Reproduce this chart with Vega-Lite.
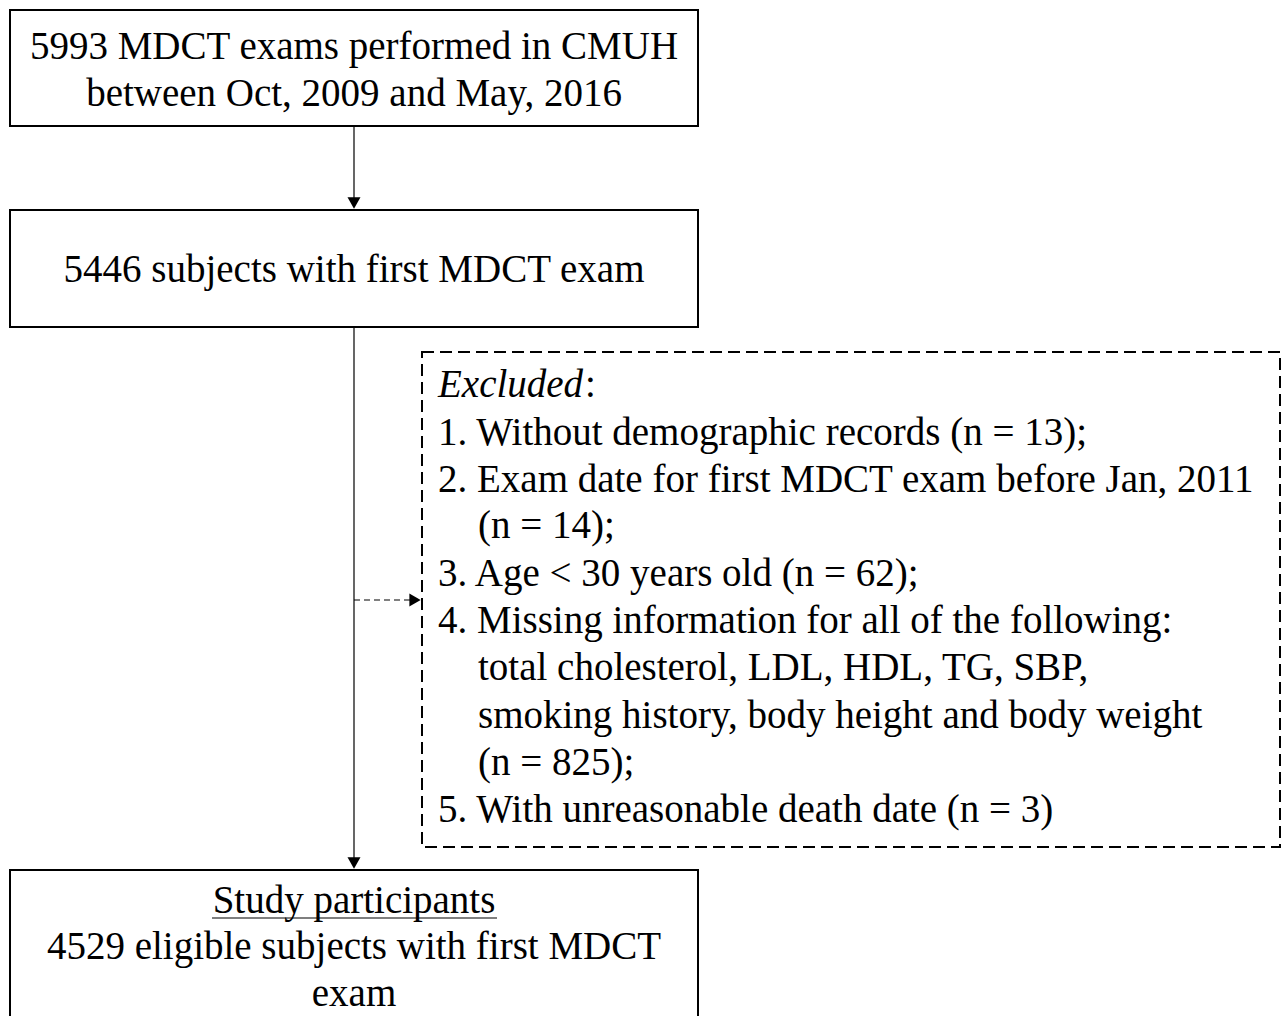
{
  "$schema": "https://vega.github.io/schema/vega-lite/v6.json",
  "width": 1286,
  "height": 1016,
  "autosize": {"type": "fit", "contains": "padding"},
  "padding": 0,
  "background": "white",
  "config": {"view": {"stroke": null}},
  "datasets": {
    "boxes": [
      {"id": "b1", "x": 10, "x2": 698, "y": 10, "y2": 126},
      {"id": "b2", "x": 10, "x2": 698, "y": 210, "y2": 327},
      {"id": "b3", "x": 10, "x2": 698, "y": 870, "y2": 1030}
    ],
    "dashbox": [{"x": 422, "x2": 1280, "y": 352, "y2": 847}],
    "vlines": [
      {"x": 354, "y": 126, "y2": 202},
      {"x": 354, "y": 327, "y2": 862}
    ],
    "hdash": [{"x": 354, "x2": 410, "y": 600}],
    "underline": [{"x": 212, "x2": 497, "y": 918}],
    "arrows": [
      {"x": 354, "y": 203, "dir": "down"},
      {"x": 354, "y": 863, "dir": "down"},
      {"x": 415, "y": 600, "dir": "right"}
    ],
    "ctext": [
      {"x": 354, "y": 47, "text": "5993 MDCT exams performed in CMUH"},
      {"x": 354, "y": 94, "text": "between Oct, 2009 and May, 2016"},
      {"x": 354, "y": 270, "text": "5446 subjects with first MDCT exam"},
      {"x": 354, "y": 901, "text": "Study participants"},
      {"x": 354, "y": 947, "text": "4529 eligible subjects with first MDCT"},
      {"x": 354, "y": 994, "text": "exam"}
    ],
    "ltext": [
      {"x": 585, "y": 385, "text": ":"},
      {"x": 438, "y": 433, "text": "1. Without demographic records (n = 13);"},
      {"x": 438, "y": 480, "text": "2. Exam date for first MDCT exam before Jan, 2011"},
      {"x": 478, "y": 526, "text": "(n = 14);"},
      {"x": 438, "y": 574, "text": "3. Age < 30 years old (n = 62);"},
      {"x": 438, "y": 621, "text": "4. Missing information for all of the following:"},
      {"x": 478, "y": 668, "text": "total cholesterol, LDL, HDL, TG, SBP,"},
      {"x": 478, "y": 716, "text": "smoking history, body height and body weight"},
      {"x": 478, "y": 763, "text": "(n = 825);"},
      {"x": 438, "y": 810, "text": "5. With unreasonable death date (n = 3)"}
    ],
    "itext": [{"x": 438, "y": 385, "text": "Excluded"}]
  },
  "encoding": {
    "x": {"field": "x", "type": "quantitative", "scale": {"domain": [0, 1286], "nice": false, "zero": false}, "axis": null},
    "y": {"field": "y", "type": "quantitative", "scale": {"domain": [0, 1016], "nice": false, "zero": false, "reverse": true}, "axis": null}
  },
  "layer": [
    {
      "data": {"name": "boxes"},
      "mark": {"type": "rect", "fill": null, "stroke": "black", "strokeWidth": 2, "clip": true},
      "encoding": {"x2": {"field": "x2"}, "y2": {"field": "y2"}}
    },
    {
      "data": {"name": "dashbox"},
      "mark": {"type": "rect", "fill": null, "stroke": "black", "strokeWidth": 2, "strokeDash": [12, 6]},
      "encoding": {"x2": {"field": "x2"}, "y2": {"field": "y2"}}
    },
    {
      "data": {"name": "vlines"},
      "mark": {"type": "rule", "stroke": "black", "strokeWidth": 1.2},
      "encoding": {"y2": {"field": "y2"}}
    },
    {
      "data": {"name": "hdash"},
      "mark": {"type": "rule", "stroke": "black", "strokeWidth": 1.2, "strokeDash": [6, 4]},
      "encoding": {"x2": {"field": "x2"}}
    },
    {
      "data": {"name": "underline"},
      "mark": {"type": "rule", "stroke": "black", "strokeWidth": 1.2},
      "encoding": {"x2": {"field": "x2"}}
    },
    {
      "data": {"name": "arrows"},
      "mark": {"type": "point", "filled": true, "color": "black", "opacity": 1, "size": 170},
      "encoding": {
        "shape": {"field": "dir", "type": "nominal", "scale": {"domain": ["down", "right"], "range": ["triangle-down", "triangle-right"]}, "legend": null}
      }
    },
    {
      "data": {"name": "ctext"},
      "mark": {"type": "text", "font": "Liberation Serif", "fontSize": 39, "align": "center", "baseline": "middle", "color": "black"},
      "encoding": {"text": {"field": "text"}}
    },
    {
      "data": {"name": "ltext"},
      "mark": {"type": "text", "font": "Liberation Serif", "fontSize": 39, "align": "left", "baseline": "middle", "color": "black"},
      "encoding": {"text": {"field": "text"}}
    },
    {
      "data": {"name": "itext"},
      "mark": {"type": "text", "font": "Liberation Serif", "fontSize": 39, "fontStyle": "italic", "align": "left", "baseline": "middle", "color": "black"},
      "encoding": {"text": {"field": "text"}}
    }
  ]
}
